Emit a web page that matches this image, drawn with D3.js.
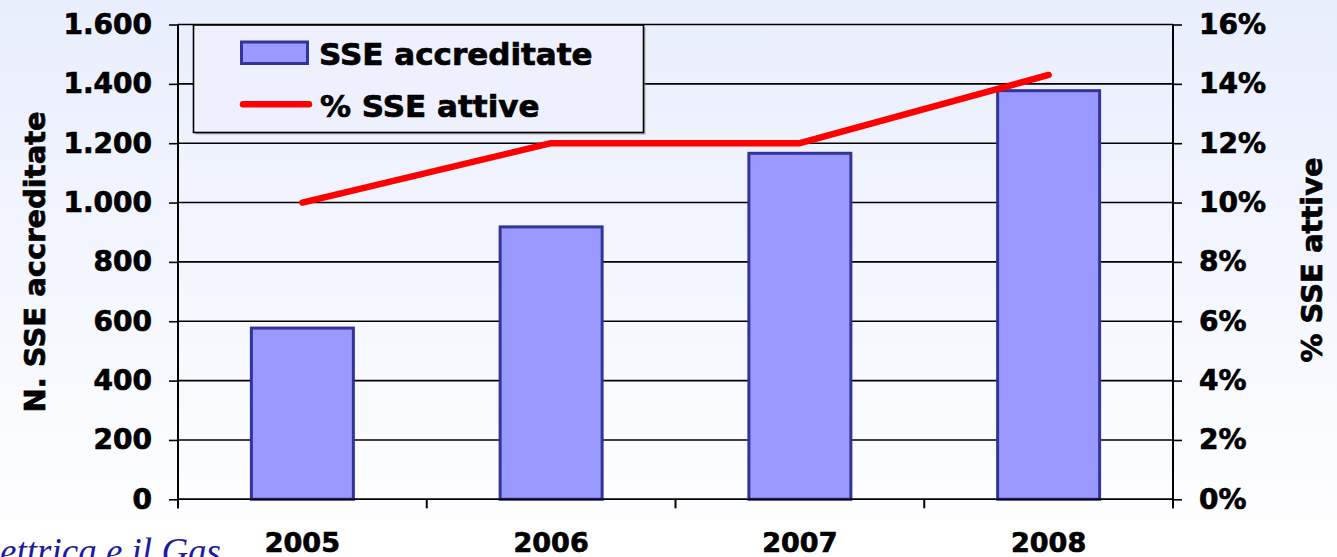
<!DOCTYPE html>
<html>
<head>
<meta charset="utf-8">
<script src="https://d3js.org/d3.v7.min.js"></script>
<style>
html, body { margin: 0; padding: 0; overflow: hidden; }
svg { display: block; }
.bt { stroke: #000; stroke-width: 0.7px; paint-order: stroke; }
</style>
</head>
<body>
<svg id="chart" width="1337" height="557"></svg>
<script>
const categories = ["2005", "2006", "2007", "2008"];
const sseAccreditate = [577, 918, 1166, 1377];
const sseAttivePct = [10, 12, 12, 14.3];
const leftTicks = [0, 200, 400, 600, 800, 1000, 1200, 1400, 1600];
const rightTicks = [0, 2, 4, 6, 8, 10, 12, 14, 16];
const seriesNames = ["SSE accreditate", "% SSE attive"];
const leftTitle = "N. SSE accreditate";
const rightTitle = "% SSE attive";
const footerText = "ettrica e il Gas";

const W = 1337, H = 557;
const m = { left: 178, right: 1173, top: 24.5, bottom: 499.3 };
const svg = d3.select("#chart");
const FONT = "'DejaVu Sans', Verdana, sans-serif";

// background gradient
const defs = svg.append("defs");
const grad = defs.append("linearGradient").attr("id", "bg").attr("x1", 0).attr("y1", 0).attr("x2", 0).attr("y2", 1);
grad.append("stop").attr("offset", "0%").attr("stop-color", "#e9eefd");
grad.append("stop").attr("offset", "100%").attr("stop-color", "#ffffff");
svg.append("rect").attr("width", W).attr("height", H).attr("fill", "url(#bg)");

const x = d3.scaleBand().domain(categories).range([m.left, m.right]).paddingInner(0).paddingOuter(0);
const yL = d3.scaleLinear().domain([0, 1600]).range([m.bottom, m.top]);
const yR = d3.scaleLinear().domain([0, 16]).range([m.bottom, m.top]);

// gridlines
svg.append("g").selectAll("line").data(leftTicks).join("line")
  .attr("x1", m.left).attr("x2", m.right)
  .attr("y1", d => yL(d)).attr("y2", d => yL(d))
  .attr("stroke", "#000").attr("stroke-width", 1.6);

// left axis
const gL = svg.append("g").attr("transform", `translate(${m.left},0)`)
  .call(d3.axisLeft(yL).tickValues(leftTicks).tickSize(9).tickPadding(17)
    .tickFormat(d => d3.format(",")(d).replace(/,/g, ".")));
gL.select(".domain").remove();
gL.append("line").attr("x1", 0).attr("x2", 0).attr("y1", m.top).attr("y2", m.bottom + 9)
  .attr("stroke", "#000").attr("stroke-width", 2);
gL.selectAll(".tick line").attr("stroke", "#000").attr("stroke-width", 1.6);
gL.selectAll(".tick text").attr("class", "bt").attr("font-family", FONT).attr("font-weight", "bold")
  .attr("font-size", "28px").attr("fill", "#000");

// right axis
const gR = svg.append("g").attr("transform", `translate(${m.right},0)`)
  .call(d3.axisRight(yR).tickValues(rightTicks).tickSize(9).tickPadding(17)
    .tickFormat(d => d + "%"));
gR.select(".domain").remove();
gR.append("line").attr("x1", 0).attr("x2", 0).attr("y1", m.top).attr("y2", m.bottom + 9)
  .attr("stroke", "#000").attr("stroke-width", 2);
gR.selectAll(".tick line").attr("stroke", "#000").attr("stroke-width", 1.6);
gR.selectAll(".tick text").attr("class", "bt").attr("font-family", FONT).attr("font-weight", "bold")
  .attr("font-size", "28px").attr("fill", "#000");

// bottom category ticks
const gB = svg.append("g");
const boundaries = categories.map(c => x(c)).concat([x(categories[categories.length - 1]) + x.bandwidth()]);
gB.selectAll("line").data(boundaries).join("line")
  .attr("x1", d => d).attr("x2", d => d)
  .attr("y1", m.bottom).attr("y2", m.bottom + 9)
  .attr("stroke", "#000").attr("stroke-width", 2);
gB.selectAll("text").data(categories).join("text")
  .attr("class", "bt")
  .attr("x", d => x(d) + x.bandwidth() / 2).attr("y", 552)
  .attr("text-anchor", "middle")
  .attr("font-family", FONT).attr("font-weight", "bold").attr("font-size", "27px")
  .text(d => d);

// bars
const bw = x.bandwidth() * 0.41;
svg.append("g").selectAll("rect").data(categories).join("rect")
  .attr("x", (d) => x(d) + x.bandwidth() / 2 - bw / 2)
  .attr("y", (d, i) => yL(sseAccreditate[i]))
  .attr("width", bw)
  .attr("height", (d, i) => yL(0) - yL(sseAccreditate[i]))
  .attr("fill", "#9999ff").attr("stroke", "#333399").attr("stroke-width", 3);

// baseline redraw over bars
svg.append("line").attr("x1", m.left).attr("x2", m.right).attr("y1", yL(0)).attr("y2", yL(0))
  .attr("stroke", "#000").attr("stroke-width", 1.6);

// line
const line = d3.line()
  .x((d, i) => x(categories[i]) + x.bandwidth() / 2)
  .y(d => yR(d));
svg.append("path").datum(sseAttivePct)
  .attr("d", line).attr("fill", "none")
  .attr("stroke", "#ff0000").attr("stroke-width", 6.5)
  .attr("stroke-linecap", "round").attr("stroke-linejoin", "round");

// legend
const lg = svg.append("g");
lg.append("rect").attr("x", 195.5).attr("y", 27).attr("width", 450).attr("height", 107.5)
  .attr("fill", "#888").attr("opacity", 0.6);
lg.append("rect").attr("x", 193.5).attr("y", 25).attr("width", 450).attr("height", 107.5)
  .attr("fill", "#eef1fd").attr("stroke", "#000").attr("stroke-width", 1.6);
lg.append("rect").attr("x", 241.5).attr("y", 42).attr("width", 66).attr("height", 21.5)
  .attr("fill", "#9999ff").attr("stroke", "#333399").attr("stroke-width", 3);
lg.append("text").attr("class", "bt").attr("x", 319).attr("y", 64.5)
  .attr("font-family", FONT).attr("font-weight", "bold").attr("font-size", "31px")
  .text(seriesNames[0]);
lg.append("line").attr("x1", 243).attr("x2", 309).attr("y1", 104.3).attr("y2", 104.3)
  .attr("stroke", "#ff0000").attr("stroke-width", 6.5).attr("stroke-linecap", "round");
lg.append("text").attr("class", "bt").attr("x", 320).attr("y", 116.7)
  .attr("font-family", FONT).attr("font-weight", "bold").attr("font-size", "31px")
  .text(seriesNames[1]);

// axis titles
const cy = (m.top + m.bottom) / 2;
svg.append("text").attr("class", "bt").attr("transform", `translate(45,${cy}) rotate(-90)`)
  .attr("text-anchor", "middle")
  .attr("font-family", FONT).attr("font-weight", "bold").attr("font-size", "29px")
  .text(leftTitle);
svg.append("text").attr("class", "bt").attr("transform", `translate(1322,${cy - 2}) rotate(-90)`)
  .attr("text-anchor", "middle")
  .attr("font-family", FONT).attr("font-weight", "bold").attr("font-size", "29px")
  .text(rightTitle);

// footer
svg.append("text").attr("x", 221).attr("y", 564)
  .attr("text-anchor", "end")
  .attr("font-family", "'Liberation Serif', 'Times New Roman', serif")
  .attr("font-style", "italic").attr("font-size", "37px").attr("fill", "#1c1c9c")
  .text(footerText);
</script>
</body>
</html>
